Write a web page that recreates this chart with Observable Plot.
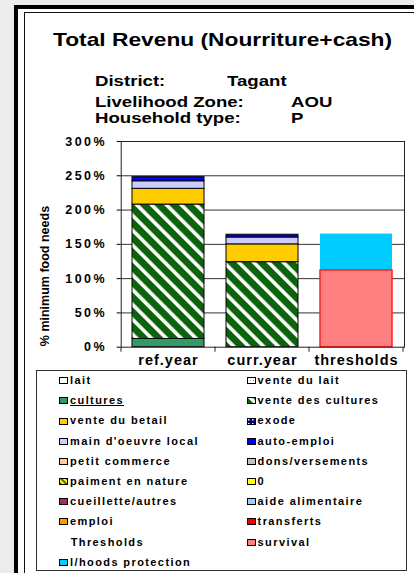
<!DOCTYPE html>
<html><head><meta charset="utf-8">
<script src="https://cdn.jsdelivr.net/npm/d3@7"></script>
<script src="https://cdn.jsdelivr.net/npm/@observablehq/plot@0.6"></script>
<style>
body{margin:0;background:#ececec;font-family:"Liberation Sans",Arial,sans-serif;}
#page{position:relative;width:414px;height:573px;overflow:hidden;background:#ececec;}
.abs{position:absolute;white-space:nowrap;}
#outer{position:absolute;left:14px;top:5px;width:440px;height:600px;border-left:4px solid #000;border-top:4px solid #000;background:#fff;}
#inner{position:absolute;left:24px;top:12px;width:440px;height:600px;border-left:1.5px solid #111;border-top:1.5px solid #111;background:#fff;}
.head{font-weight:bold;color:#000;transform-origin:0 0;transform:scaleX(1.2);}
#title{transform:scaleX(1.23);}
#legend{position:absolute;left:36px;top:370px;width:369px;height:199px;border:1.5px solid #333;background:#fff;}
.lt{font-weight:bold;font-size:11px;line-height:11px;letter-spacing:1.4px;color:#000;}
</style></head><body>
<svg width="0" height="0" style="position:absolute">
  <defs>
    <pattern id="hatch" patternUnits="userSpaceOnUse" width="10.5" height="10.5" patternTransform="rotate(-45)">
      <rect width="10.5" height="10.5" fill="#0b640b"></rect>
      <rect width="3.6" height="10.5" fill="#ffffff"></rect>
    </pattern>
    <pattern id="p-lait" patternUnits="userSpaceOnUse" width="3" height="3">
      <rect width="3" height="3" fill="#ffffff"></rect>
      <rect width="1" height="1" fill="#999"></rect>
    </pattern>
    <pattern id="p-exode" patternUnits="userSpaceOnUse" width="4" height="4">
      <rect width="4" height="4" fill="#000080"></rect>
      <rect x="1" y="1" width="1.5" height="1.5" fill="#ffffff"></rect>
    </pattern>
    <pattern id="p-nature" patternUnits="userSpaceOnUse" width="4" height="4" patternTransform="rotate(-45)">
      <rect width="4" height="4" fill="#ffff00"></rect>
      <rect width="2" height="4" fill="#666600"></rect>
    </pattern>
  </defs>
</svg>
<div id="page">
  <div id="outer"></div>
  <div id="inner"></div>
  <div class="abs head" id="title" style="left:53px;top:31px;font-size:18.5px;line-height:18.5px;"></div>
  <div class="abs head" id="l1a" style="left:95px;top:72.9px;font-size:15.5px;line-height:15.5px;"></div>
  <div class="abs head" id="l1b" style="left:226.7px;top:72.9px;font-size:15.5px;line-height:15.5px;"></div>
  <div class="abs head" id="l2a" style="left:95px;top:94.2px;font-size:15.5px;line-height:15.5px;"></div>
  <div class="abs head" id="l2b" style="left:291px;top:94.2px;font-size:15.5px;line-height:15.5px;"></div>
  <div class="abs head" id="l3a" style="left:95px;top:109.6px;font-size:15.5px;line-height:15.5px;"></div>
  <div class="abs head" id="l3b" style="left:291px;top:109.6px;font-size:15.5px;line-height:15.5px;"></div>
  <div id="chart" class="abs" style="left:0;top:130px;"></div>
  <div id="legend"></div>
  <div id="legendItems"></div>
</div>
<script>
const titleText = "Total Revenu (Nourriture+cash)";
const infoLabels = ["District:", "Livelihood Zone:", "Household type:"];
const infoValues = ["Tagant", "AOU", "P"];

const categories = ["ref.year", "curr.year", "thresholds"];
const seriesNames = ["lait", "vente du lait", "cultures", "vente des cultures", "vente du betail", "exode",
  "main d'oeuvre local", "auto-emploi", "petit commerce", "dons/versements", "paiment en nature", "0",
  "cueillette/autres", "aide alimentaire", "emploi", "transferts"];
const refYearValues  = [0, 0, 12, 196, 23, 0, 11, 6, 0, 0, 0, 0, 0, 0, 0, 0];
const currYearValues = [0, 0, 0, 124, 26, 0, 10, 4, 0, 0, 0, 0, 0, 0, 0, 0];
const seriesFills = ["#ffffff", "url(#p-lait)", "#339966", "url(#hatch)", "#ffcc00", "url(#p-exode)",
  "#ccccff", "#0000ff", "#ffcc99", "#c0c0c0", "url(#p-nature)", "#ffff00",
  "#993366", "#99ccff", "#ff9900", "#ff0000"];
const thresholdNames = ["survival", "l/hoods protection"];
const thresholdValues = [112, 53];
const thresholdFills = ["#ff8080", "#00ccff"];
const thresholdsHeader = "Thresholds";
const yTicks = [0, 50, 100, 150, 200, 250, 300];
const yLabel = "% minimum food needs";

document.getElementById("title").textContent = titleText;
["l1", "l2", "l3"].forEach((id, i) => {
  document.getElementById(id + "a").textContent = infoLabels[i];
  document.getElementById(id + "b").textContent = infoValues[i];
});

const yearRows = [];
[refYearValues, currYearValues].forEach((vals, ci) => {
  seriesNames.forEach((s, i) => yearRows.push({category: categories[ci], series: s, value: vals[i]}));
});
const thresholdRows = thresholdNames.map((s, i) => ({category: categories[2], series: s, value: thresholdValues[i]}));

const chart = Plot.plot({
  width: 414, height: 240,
  marginLeft: 120.7, marginRight: 10, marginTop: 11, marginBottom: 23.3,
  style: {background: "transparent", fontFamily: "'Liberation Sans', Arial, sans-serif", color: "#000", overflow: "visible"},
  x: {domain: categories, paddingInner: 0.23, paddingOuter: 0.115},
  y: {domain: [0, 300]},
  color: {domain: [...seriesNames, ...thresholdNames], range: [...seriesFills, ...thresholdFills]},
  marks: [
    Plot.gridY(yTicks.slice(1), {stroke: "#333", strokeOpacity: 1, strokeWidth: 1}),
    Plot.barY(yearRows, Plot.stackY({x: "category", y: "value", fill: "series", stroke: "#000", strokeWidth: 1, filter: d => d.value > 0})),
    Plot.barY(thresholdRows, Plot.stackY({x: "category", y: "value", fill: "series"})),
    Plot.barY(thresholdRows.slice(0, 1), {x: "category", y: "value", fill: "none", stroke: "#ff2020", strokeWidth: 1.5}),
    Plot.frame({stroke: "#222"}),
    Plot.axisY(yTicks, {tickSize: 4, tickPadding: 10, tickFormat: d => d + "%", fontSize: 12.5, fontWeight: "bold", label: null}),
    Plot.axisX({tickSize: 0, tickPadding: 8, fontSize: 14.5, fontWeight: "bold", label: null}),
    Plot.text([yLabel], {frameAnchor: "left", textAnchor: "middle", dx: -76.7, dy: 31.7, rotate: -90, fontSize: 12.5, fontWeight: "bold", fill: "#000"})
  ]
});
document.getElementById("chart").appendChild(chart);
d3.select(chart).selectAll('g[aria-label="y-axis tick label"] text').attr("letter-spacing", "2.5px");
d3.select(chart).selectAll('g[aria-label="x-axis tick label"] text').attr("letter-spacing", "1px");

// category boundary ticks on the x axis, from the library's x scale
const xs = chart.scale("x");
const ys = chart.scale("y");
const gap = (xs.step - xs.bandwidth) / 2;
const bounds = categories.map(c => xs.apply(c) - gap);
bounds.push(xs.apply(categories[categories.length - 1]) + xs.bandwidth + gap);
const y0 = ys.apply(0);
d3.select(chart).append("g").selectAll("line").data(bounds).join("line")
  .attr("x1", d => d).attr("x2", d => d).attr("y1", y0).attr("y2", y0 + 5)
  .attr("stroke", "#222");

// legend
const legendItems = [];
seriesNames.forEach((s, i) => legendItems.push({label: s, fill: seriesFills[i]}));
legendItems.push({label: thresholdsHeader, fill: null});
thresholdNames.forEach((s, i) => legendItems.push({label: s, fill: thresholdFills[i]}));
const li = document.getElementById("legendItems");
legendItems.forEach((it, i) => {
  const col = i % 2, row = Math.floor(i / 2);
  const cy = 380.7 + row * 20.18;
  const swx = col === 0 ? 59.3 : 246.7;
  const tx = col === 0 ? 70 : 257.6;
  if (it.fill) {
    const s = document.createElementNS("http://www.w3.org/2000/svg", "svg");
    s.setAttribute("width", 9); s.setAttribute("height", 7);
    s.style.position = "absolute"; s.style.left = swx + "px"; s.style.top = (cy - 3.5) + "px";
    s.innerHTML = `<rect x="0.5" y="0.5" width="8" height="6" fill="${it.fill}" stroke="#000" stroke-width="1"></rect>`;
    li.appendChild(s);
  }
  const t = document.createElement("div");
  t.className = "abs lt";
  t.style.left = (it.fill ? tx : 70.7) + "px";
  t.style.top = (cy - 5.6) + "px";
  t.textContent = it.label;
  if (it.label === "cultures") t.style.textDecoration = "underline";
  li.appendChild(t);
});
</script>
</body></html>
